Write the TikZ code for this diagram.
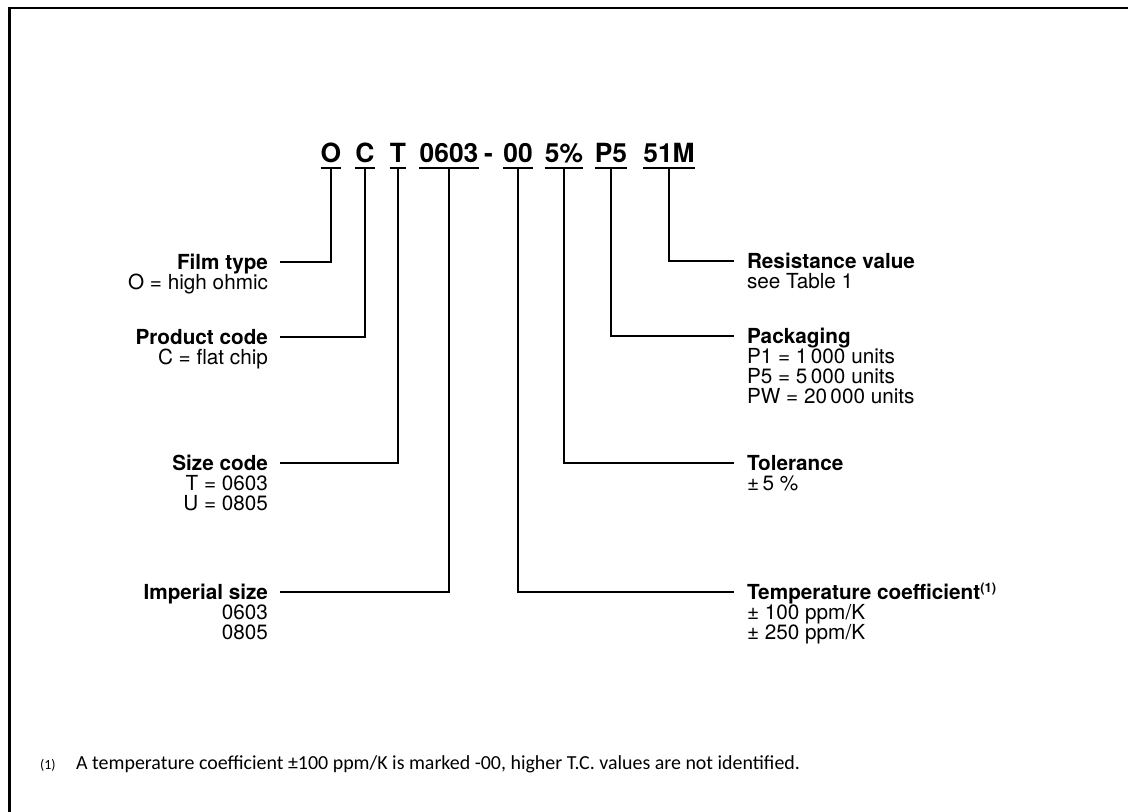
\documentclass[tikz,border=0pt]{standalone}
\usepackage{fontspec}
\setmainfont{TeX Gyre Heros}
\newfontfamily\notefont{Carlito}
\begin{document}
\begin{tikzpicture}[x=1bp,y=-1bp,
  code/.style={font=\fontsize{26.5}{30}\selectfont\bfseries, anchor=base, inner sep=0pt},
  uline/.style={line width=1.8bp},
  conn/.style={line width=1.4bp},
  ltitle/.style={font=\fontsize{20.8}{20}\selectfont\bfseries, inner xsep=0pt, inner ysep=0pt,
     text height=14bp, text depth=0pt, outer xsep=12bp, outer ysep=0pt, anchor=east},
  rtitle/.style={ltitle, outer xsep=13bp, anchor=west},
  lval/.style={font=\fontsize{20.8}{20}\selectfont, inner sep=0pt, outer xsep=12bp, outer ysep=0pt,
     align=right, anchor=base east},
  rval/.style={lval, outer xsep=13bp, align=left, anchor=base west},
  note/.style={font=\notefont\fontsize{20}{22}\selectfont, inner sep=0pt, anchor=base west}
]
\useasboundingbox (0,0) rectangle (1128,812);
% frame (open at right and bottom)
\draw[line width=2.2bp] (9.5,812) -- (9.5,8) -- (1128,8);

% type code
\node[code] (cO) at (331,162) {O};
\node[code] (cC) at (365,162) {C};
\node[code] (cT) at (398,162) {T};
\node[code] (cS) at (449,162) {0603};
\node[code] (cD) at (488.5,162) {-};
\node[code] (cTC) at (518,162) {00};
\node[code] (cTol) at (564,162) {5\%};
\node[code] (cP) at (611,162) {P5};
\node[code] (cR) at (669,162) {51M};
\foreach \n in {cO,cC,cT,cS,cTC,cTol,cP,cR}{
  \draw[uline] ([yshift=-6bp]\n.base west) -- ([yshift=-6bp]\n.base east);
  \coordinate (u\n) at ([yshift=-6bp]\n.base);
}

% left labels (base of a multi-line node = its last line)
\node[ltitle] (tFilm) at (280,262) {Film type};
\node[lval] (vFilm) at ([yshift=-20bp]tFilm.base east) {O = high ohmic};
\node[ltitle] (tProd) at (280,337) {Product code};
\node[lval] (vProd) at ([yshift=-20bp]tProd.base east) {C = flat chip};
\node[ltitle] (tSize) at (280,463) {Size code};
\node[lval] (vSize) at ([yshift=-40bp]tSize.base east) {T = 0603\\U = 0805};
\node[ltitle] (tImp) at (280,592) {Imperial size};
\node[lval] (vImp) at ([yshift=-40bp]tImp.base east) {0603\\0805};

% right labels
\node[rtitle] (tRes) at (734,261) {Resistance value};
\node[rval] (vRes) at ([yshift=-20bp]tRes.base west) {see Table 1};
\node[rtitle] (tPack) at (734,336) {Packaging};
\node[rval] (vPack) at ([yshift=-60bp]tPack.base west) {P1 = 1\,000 units\\P5 = 5\,000 units\\PW = 20\,000 units};
\node[rtitle] (tTol) at (734,463) {Tolerance};
\node[rval] (vTol) at ([yshift=-20bp]tTol.base west) {±\,5 \%};
\node[rtitle] (tTemp) at (734,592) {Temperature coefficient\raisebox{7bp}{\fontsize{13}{13}\selectfont(1)}};
\node[rval] (vTemp) at ([yshift=-40bp]tTemp.base west) {± 100 ppm/K\\± 250 ppm/K};

% connectors
\draw[conn] (ucO) |- (tFilm.east);
\draw[conn] (ucC) |- (tProd.east);
\draw[conn] (ucT) |- (tSize.east);
\draw[conn] (ucS) |- (tImp.east);
\draw[conn] (ucR) |- (tRes.west);
\draw[conn] (ucP) |- (tPack.west);
\draw[conn] (ucTol) |- (tTol.west);
\draw[conn] (ucTC) |- (tTemp.west);

% footnote
\node[note, font=\notefont\fontsize{14}{16}\selectfont] (fnum) at (40,769) {(1)};
\node[note] (ftext) at (76,769) {A temperature coefficient ±100 ppm/K is marked -00, higher T.C. values are not identified.};
\end{tikzpicture}
\end{document}
